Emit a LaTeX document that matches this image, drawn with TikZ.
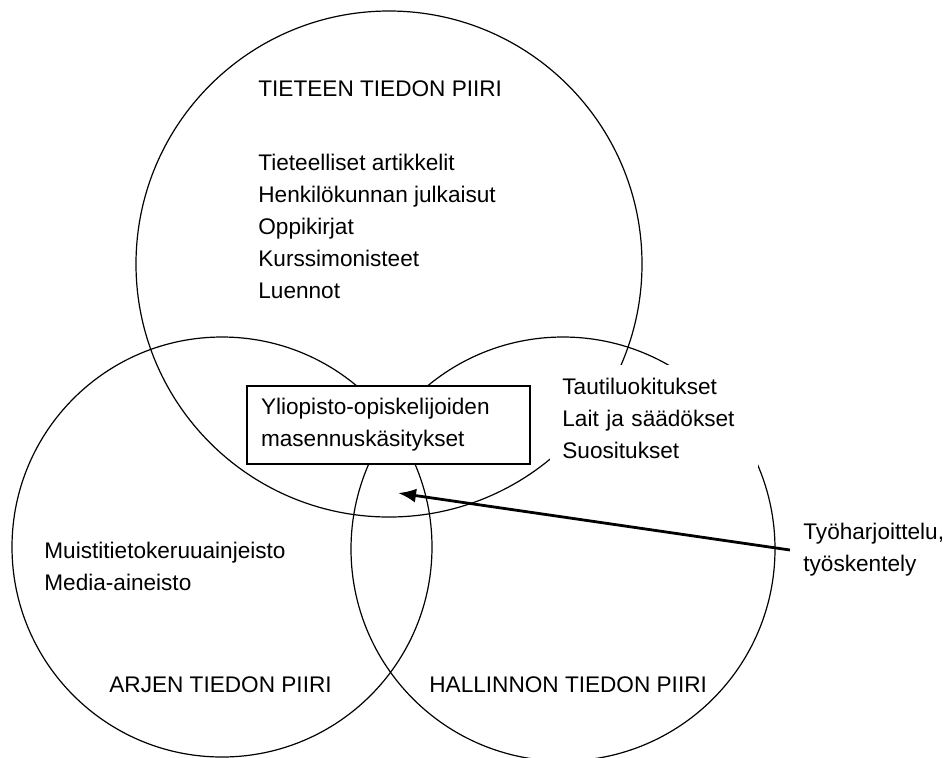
\documentclass[tikz,border=0pt]{standalone}
\usepackage{fontspec}
\setmainfont{Liberation Sans}
\usetikzlibrary{positioning,arrows.meta}
\tikzset{>={Latex[length=9pt,width=7pt]}}

\begin{document}
\begin{tikzpicture}[x=0.5pt,y=-0.5pt,
                    piiri/.style={draw,line width=0.6pt},
                    teksti/.style={inner sep=0,align=left,font=\fontsize{11.3}{16}\selectfont},
                    laatikko/.style={teksti,draw,line width=0.6pt,fill=white},
        ]
        \useasboundingbox (0,0) rectangle (947,757);
        \clip (0,0) rectangle (947,757);
%
        \draw[piiri] (389,264) circle[radius=126.5pt];
        \draw[piiri] (222,547) circle[radius=105pt];
        \draw[piiri] (563,549) circle[radius=106pt];
%
        \node[teksti,anchor=west] (tiede) at (258,89) {TIETEEN TIEDON PIIRI};
        \node[teksti,anchor=west] (tiedelista) at (258,226.5) {Tieteelliset artikkelit\\Henkilökunnan julkaisut\\Oppikirjat\\Kurssimonisteet\\Luennot};
        \node[laatikko,inner xsep=7pt,text width=127.5pt,minimum height=39pt] (kasitys) at (388.5,425) {Yliopisto-opiskelijoiden\\masennuskäsitykset};
        \node[teksti,fill=white,anchor=north west,inner xsep=6pt,text width=92pt,minimum height=53pt] (hallintolista) at (550,365) {Tautiluokitukset\\Lait ja säädökset\\Suositukset};
        \node[teksti,anchor=west] (arkilista) at (44,566.5) {Muistitietokeruuainjeisto\\Media-aineisto};
        \node[teksti,anchor=west] (arki) at (109,685) {ARJEN TIEDON PIIRI};
        \node[teksti,anchor=west] (hallinto) at (429,685) {HALLINNON TIEDON PIIRI};
        \node[teksti,anchor=west,inner xsep=6.5pt] (harjoittelu) at (790,550) {Työharjoittelu,\\työskentely};
%
        \coordinate (kohta) at (398,493);
        \draw[->,line width=1.4pt] (harjoittelu.west) -- (kohta);
    \end{tikzpicture}
\end{document}
